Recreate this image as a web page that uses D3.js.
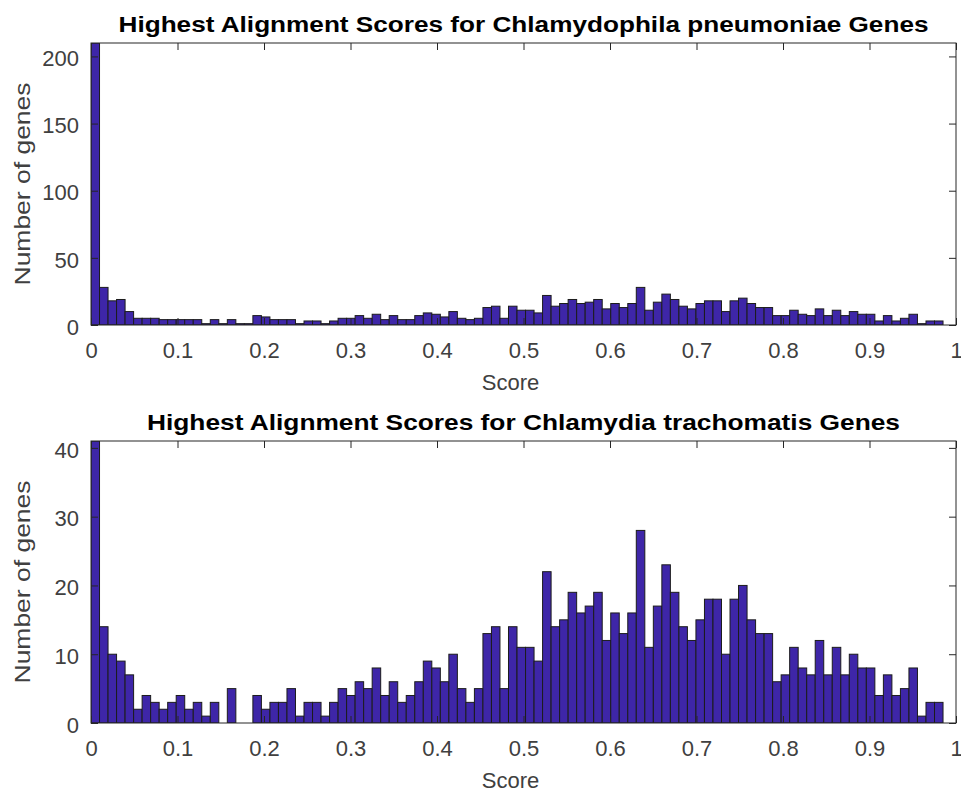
<!DOCTYPE html>
<html>
<head>
<meta charset="utf-8">
<script src="https://cdn.jsdelivr.net/npm/d3@7"></script>
<style>
	body { margin: 0; background: #fff; }
	svg { display: block; font-family: "Liberation Sans", Arial, Helvetica, sans-serif; }
</style>
</head>
<body>
<svg id="viz" width="961" height="793"></svg>
<script>
// histogram counts, 100 bins between 0 and the largest score
var scoreMax = 0.985;
var xTicks = [0, 0.1, 0.2, 0.3, 0.4, 0.5, 0.6, 0.7, 0.8, 0.9, 1];

var pneumoniaeTitle = "Highest Alignment Scores for Chlamydophila pneumoniae Genes";
var pneumoniaeTicks = [0, 50, 100, 150, 200];
var pneumoniaeCounts = [
	210, 28, 18, 19, 10, 5, 5, 5, 4, 4,
	4, 4, 4, 1, 4, 1, 4, 1, 1, 7,
	6, 4, 4, 4, 1, 3, 3, 1, 3, 5,
	5, 7, 5, 8, 4, 7, 4, 4, 7, 9,
	8, 6, 10, 5, 4, 5, 13, 14, 5, 14,
	11, 11, 9, 22, 14, 16, 19, 16, 17, 19,
	12, 16, 13, 16, 28, 11, 17, 23, 19, 14,
	12, 16, 18, 18, 10, 18, 20, 16, 13, 13,
	7, 7, 11, 8, 7, 12, 7, 11, 7, 10,
	8, 8, 3, 7, 3, 5, 8, 1, 3, 3
];

var trachomatisTitle = "Highest Alignment Scores for Chlamydia trachomatis Genes";
var trachomatisTicks = [0, 10, 20, 30, 40];
var trachomatisCounts = [
	41, 14, 10, 9, 7, 2, 4, 3, 2, 3,
	4, 2, 3, 1, 3, 0, 5, 0, 0, 4,
	2, 3, 3, 5, 1, 3, 3, 1, 3, 5,
	4, 6, 5, 8, 4, 6, 3, 4, 6, 9,
	8, 6, 10, 5, 3, 5, 13, 14, 5, 14,
	11, 11, 9, 22, 14, 15, 19, 16, 17, 19,
	12, 16, 13, 16, 28, 11, 17, 23, 19, 14,
	12, 15, 18, 18, 10, 18, 20, 15, 13, 13,
	6, 7, 11, 8, 7, 12, 7, 11, 7, 10,
	8, 8, 4, 7, 4, 5, 8, 1, 3, 3
];

var panels = [
	{ id: "top", title: pneumoniaeTitle, counts: pneumoniaeCounts, ticks: pneumoniaeTicks, top: 43, titleWidth: 810 },
	{ id: "bottom", title: trachomatisTitle, counts: trachomatisCounts, ticks: trachomatisTicks, top: 441, titleWidth: 753 }
];

var svg = d3.select("#viz");
var left = 91, right = 956, plotHeight = 282;
var barColor = "#3e26a8", axisColor = "#262626", textColor = "#404040";

var x = d3.scaleLinear().domain([0, 1]).range([0, right - left]);
var binWidth = scoreMax / 100;

panels.forEach(function (p) {
	var y = d3.scaleLinear()
		.domain([0, d3.max(p.counts)])
		.range([plotHeight, 0]);

	// keep the bin index with each count, empty bins are not drawn
	var bins = p.counts
		.map(function (c, i) { return { i: i, count: c }; })
		.filter(function (b) { return b.count > 0; });

	var g = svg.append("g")
		.attr("class", "panel")
		.attr("transform", "translate(" + left + "," + p.top + ")");

	g.append("clipPath")
		.attr("id", "clip-" + p.id)
		.append("rect")
		.attr("width", x.range()[1])
		.attr("height", plotHeight);

	g.append("g")
		.attr("clip-path", "url(#clip-" + p.id + ")")
		.selectAll("rect")
		.data(bins)
		.enter().append("rect")
		.attr("x", function (b) { return x(b.i * binWidth); })
		.attr("width", function (b) { return x((b.i + 1) * binWidth) - x(b.i * binWidth); })
		.attr("y", function (b) { return y(b.count); })
		.attr("height", function (b) { return y(0) - y(b.count); })
		.attr("fill", barColor)
		.attr("stroke", "#1c1c1c")
		.attr("stroke-width", 1);

	// inward ticks on all four sides, like a boxed matlab axes
	var xFmt = d3.format("~g");
	g.append("g")
		.attr("transform", "translate(0," + plotHeight + ")")
		.call(d3.axisBottom(x).tickValues(xTicks).tickFormat(xFmt).tickSizeInner(-7).tickSizeOuter(0).tickPadding(17));
	g.append("g")
		.call(d3.axisTop(x).tickValues(xTicks).tickFormat("").tickSizeInner(-7).tickSizeOuter(0));
	var leftAxis = g.append("g")
		.call(d3.axisLeft(y).tickValues(p.ticks).tickSizeInner(-7).tickSizeOuter(0).tickPadding(12));
	g.append("g")
		.attr("transform", "translate(" + x.range()[1] + ",0)")
		.call(d3.axisRight(y).tickValues(p.ticks).tickFormat("").tickSizeInner(-7).tickSizeOuter(0));

	g.selectAll(".domain").remove();
	g.selectAll(".tick line").attr("stroke", axisColor);
	g.selectAll(".tick text")
		.attr("fill", textColor)
		.style("font-size", "22px");
	leftAxis.selectAll("text").attr("dy", "0.42em");

	g.append("rect")
		.attr("width", x.range()[1])
		.attr("height", plotHeight)
		.attr("fill", "none")
		.attr("stroke", axisColor)
		.attr("stroke-width", 1);

	g.append("text")
		.attr("x", x.range()[1] / 2)
		.attr("y", -11)
		.attr("text-anchor", "middle")
		.attr("textLength", p.titleWidth)
		.attr("lengthAdjust", "spacingAndGlyphs")
		.style("font-size", "22px")
		.style("font-weight", "bold")
		.attr("fill", "#000")
		.text(p.title);

	g.append("text")
		.attr("x", x(0.485))
		.attr("y", plotHeight + 65)
		.attr("text-anchor", "middle")
		.style("font-size", "22px")
		.attr("fill", textColor)
		.text("Score");

	g.append("text")
		.attr("transform", "translate(" + (22 - left + 8) + "," + (plotHeight / 2) + ") rotate(-90)")
		.attr("text-anchor", "middle")
		.attr("textLength", 203)
		.attr("lengthAdjust", "spacingAndGlyphs")
		.style("font-size", "22px")
		.attr("fill", textColor)
		.text("Number of genes");
});
</script>
</body>
</html>
